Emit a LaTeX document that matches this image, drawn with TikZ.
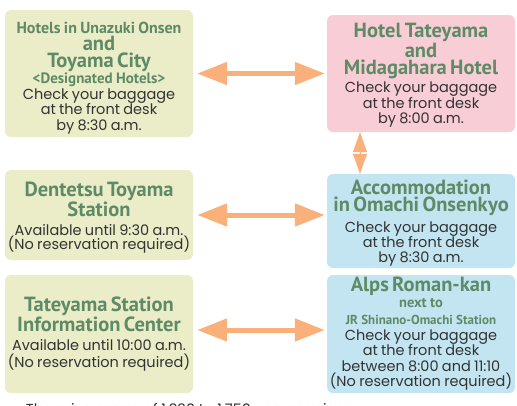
\documentclass[tikz,border=0pt]{standalone}
\usepackage{fontspec}
\usetikzlibrary{arrows.meta}
\newfontfamily\ttlfont{PT Sans}
\newfontfamily\bodyfont{Poppins}
\newfontfamily\symfont{DejaVu Sans}
\definecolor{boxgreen}{HTML}{EAEDC8}
\definecolor{boxpink}{HTML}{F8CDD6}
\definecolor{boxblue}{HTML}{C3E5F2}
\definecolor{ttlgreen}{HTML}{5E8A66}
\definecolor{bodygray}{HTML}{333333}
\definecolor{arroworange}{HTML}{F9B07A}
\newcommand{\ttlbig}{\ttlfont\bfseries\color{ttlgreen}\fontsize{20.5}{17}\selectfont}
\newcommand{\ttlmid}{\ttlfont\bfseries\color{ttlgreen}\fontsize{16}{16}\selectfont}
\newcommand{\ttlsm}{\ttlfont\bfseries\color{ttlgreen}\fontsize{14.5}{16}\selectfont}
\newcommand{\bodytxt}{\bodyfont\color{bodygray}\fontsize{14.5}{15.5}\selectfont}
\newcommand{\topgap}[1]{\rule{0pt}{#1}}
\begin{document}
\begin{tikzpicture}[x=1pt, y=-1pt]
\tikzset{
  infobox/.style={rounded corners=6pt, align=center, inner sep=0pt, text width=188pt, minimum width=188pt},
  leftbox/.style={infobox, fill=boxgreen},
  pinkbox/.style={infobox, fill=boxpink},
  bluebox/.style={infobox, fill=boxblue},
  dblarrow/.style={arroworange, line width=5pt, {Triangle[length=30pt, width=22pt]}-{Triangle[length=30pt, width=22pt]}},
  vtarrow/.style={arroworange, line width=0.5pt, {Triangle[length=20pt, width=14pt]}-{Triangle[length=20pt, width=14pt]}}
}
\useasboundingbox (0,0) rectangle (517,405);
% left column
\node[leftbox, minimum height=127pt] (L1) at (99,73.5) {%
  {\ttlmid\topgap{20pt}Hotels in Unazuki Onsen\par}
  {\ttlbig and\par Toyama City\par}
  {\ttlsm\fontsize{15}{16.5}\selectfont <Designated Hotels>\par}
  {\bodytxt Check your baggage\par at the front desk\par by 8:30 a.m.\par}};
\node[leftbox, minimum height=90pt] (L2) at (99,215) {%
  {\ttlbig\topgap{19pt}Dentetsu Toyama\par Station\par}\vspace{5pt}
  {\bodytxt\fontsize{14.5}{14}\selectfont Available until 9:30 a.m.\par (No reservation required)\par}};
\node[leftbox, minimum height=118pt] (L3) at (99,334) {%
  {\ttlbig Tateyama Station\par Information Center\par}\vspace{3pt}
  {\bodytxt\fontsize{14.5}{16.5}\selectfont Available until 10:00 a.m.\par (No reservation required)\par}};
% right column
\node[pinkbox, minimum height=117pt] (R1) at (421,73.5) {%
  {\ttlbig\topgap{18pt}Hotel Tateyama\par and\par Midagahara Hotel\par}\vspace{3pt}
  {\bodytxt Check your baggage\par at the front desk\par by 8:00 a.m.\par}};
\node[bluebox, minimum height=94pt] (R2) at (421,221) {%
  {\ttlbig\topgap{19pt}Accommodation\par in Omachi Onsenkyo\par}\vspace{6pt}
  {\bodytxt\fontsize{14.5}{15}\selectfont Check your baggage\par at the front desk\par by 8:30 a.m.\par}};
\node[bluebox, minimum height=118pt] (R3) at (421,334) {%
  {\ttlbig Alps Roman-kan\par}
  {\ttlsm next to\par}
  {\ttlsm\fontsize{13}{17}\selectfont JR Shinano-Omachi Station\par}
  {\bodytxt Check your baggage\par at the front desk\par between 8:00 and 11:10\par (No reservation required)\par}};
% arrows
\draw[dblarrow] ([xshift=4pt]L1.east) -- ([xshift=-2pt]R1.west);
\draw[dblarrow] ([xshift=4pt]L2.east) -- ([xshift=-2pt]L2.east -| R2.west);
\draw[dblarrow] ([xshift=4pt, yshift=4pt]L3.east) -- ([xshift=-2pt, yshift=4pt]R3.west);
\draw[vtarrow] ([xshift=-61pt]R1.south) -- ([xshift=-61pt]R2.north);
% clipped note
\node[anchor=base west, inner sep=0pt] (note) at (17,414) {{\symfont\fontsize{10}{10}\selectfont ●}{\bodytxt The price range of 1,330 to 1,750 yen per piece}};
\end{tikzpicture}
\end{document}
